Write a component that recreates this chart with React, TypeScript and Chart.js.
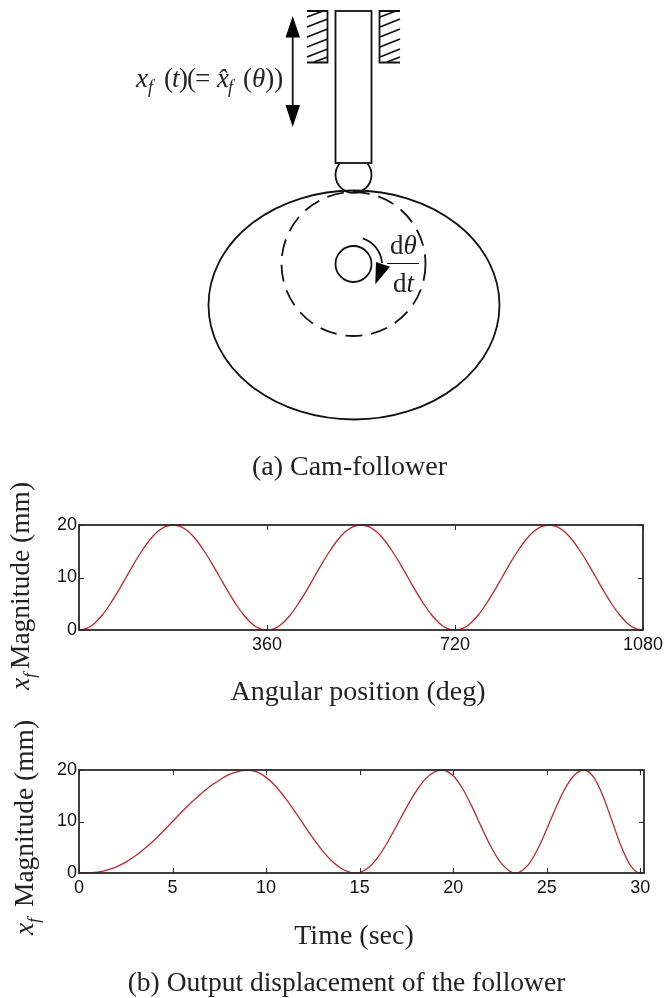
import React, { useEffect, useRef } from "react";
import { Chart, registerables } from "chart.js";

Chart.register(...registerables);

const angleDeg = [
  0, 15, 30, 45, 60, 75, 90, 105, 120, 135, 150, 165, 180, 195, 210, 225, 240, 255, 270, 285, 300, 315, 330, 345, 360,
  375, 390, 405, 420, 435, 450, 465, 480, 495, 510, 525, 540, 555, 570, 585, 600, 615, 630, 645, 660, 675, 690, 705, 720,
  735, 750, 765, 780, 795, 810, 825, 840, 855, 870, 885, 900, 915, 930, 945, 960, 975, 990, 1005, 1020, 1035, 1050, 1065, 1080,
];
const angleDisplacement = [
  0, 0.3, 1.3, 2.9, 5, 7.4, 10, 12.6, 15, 17.1, 18.7, 19.7, 20, 19.7, 18.7, 17.1, 15, 12.6, 10, 7.4, 5, 2.9, 1.3, 0.3, 0,
  0.3, 1.3, 2.9, 5, 7.4, 10, 12.6, 15, 17.1, 18.7, 19.7, 20, 19.7, 18.7, 17.1, 15, 12.6, 10, 7.4, 5, 2.9, 1.3, 0.3, 0,
  0.3, 1.3, 2.9, 5, 7.4, 10, 12.6, 15, 17.1, 18.7, 19.7, 20, 19.7, 18.7, 17.1, 15, 12.6, 10, 7.4, 5, 2.9, 1.3, 0.3, 0,
];
const timeSec = [
  0, 0.5, 1, 1.5, 2, 2.5, 3, 3.5, 4, 4.5, 5, 5.5, 6, 6.5, 7, 7.5, 8, 8.5, 9,
  9.5, 10, 10.5, 11, 11.5, 12, 12.5, 13, 13.5, 14, 14.5, 14.8,
  15, 15.5, 16, 16.5, 17, 17.5, 18, 18.5, 19, 19.4,
  20, 20.5, 21, 21.5, 22, 22.5, 23, 23.35,
  23.5, 24, 24.5, 25, 25.5, 26, 26.5, 27,
  27.5, 28, 28.5, 29, 29.5, 30, 30.2,
];
const timeDisplacement = [
  0, 0.03, 0.15, 0.55, 1.2, 2.1, 3.3, 4.7, 6.3, 8.1, 10, 11.9, 13.7, 15.3, 16.8, 18, 19.1, 19.7, 20,
  19.64, 18.57, 16.88, 14.68, 12.15, 9.46, 6.81, 4.39, 2.38, 0.93, 0.13, 0,
  0.09, 1.12, 3.18, 6.02, 9.32, 12.7, 15.77, 18.17, 19.63, 20,
  18.88, 16.41, 12.93, 9.01, 5.23, 2.19, 0.4, 0,
  0.08, 1.52, 4.51, 8.5, 12.76, 16.52, 19.08, 20,
  18.66, 15, 10, 5, 1.34, 0, 0,
];
const angleTicks = [0, 360, 720, 1080];
const timeTicks = [0, 5, 10, 15, 20, 25, 30];
const yTicks = [0, 10, 20];

const LINE = "#c0272d";
const AXIS = "#2b2b2b";
const SERIF = '"Liberation Serif", serif';
const SANS = '"Liberation Sans", sans-serif';

const frame = {
  id: "frame",
  afterDatasetsDraw(chart: any) {
    const { ctx, chartArea: a, scales } = chart;
    ctx.save();
    ctx.strokeStyle = AXIS;
    ctx.lineWidth = 1;
    const tick = 5;
    ctx.beginPath();
    scales.x.ticks.forEach((t: any) => {
      const p = Math.round(scales.x.getPixelForValue(t.value)) + 0.5;
      ctx.moveTo(p, a.bottom);
      ctx.lineTo(p, a.bottom - tick);
      ctx.moveTo(p, a.top);
      ctx.lineTo(p, a.top + tick);
    });
    scales.y.ticks.forEach((t: any) => {
      const p = Math.round(scales.y.getPixelForValue(t.value)) + 0.5;
      ctx.moveTo(a.left, p);
      ctx.lineTo(a.left + tick, p);
      ctx.moveTo(a.right, p);
      ctx.lineTo(a.right - tick, p);
    });
    ctx.stroke();
    ctx.lineWidth = 1.8;
    ctx.strokeRect(a.left, a.top, a.right - a.left, a.bottom - a.top);
    ctx.restore();
  },
};

function makeChart(
  canvas: HTMLCanvasElement,
  xs: number[],
  ys: number[],
  xMax: number,
  xTicks: number[],
  hideZero: boolean,
  top: number,
  plotH: number,
) {
  return new Chart(canvas, {
    type: "line",
    data: {
      datasets: [
        {
          data: xs.map((x, i) => ({ x, y: ys[i] })),
          borderColor: LINE,
          borderWidth: 1.3,
          pointRadius: 0,
          cubicInterpolationMode: "monotone",
          clip: false,
        },
      ],
    },
    options: {
      animation: false,
      responsive: false,
      layout: { padding: { top, right: 23, left: 0, bottom: 0 } },
      plugins: { legend: { display: false }, tooltip: { enabled: false } },
      scales: {
        x: {
          type: "linear",
          min: 0,
          max: xMax,
          grid: { display: false, drawTicks: false },
          border: { display: false },
          afterBuildTicks(s: any) {
            s.ticks = xTicks.map((value) => ({ value }));
          },
          afterFit(s: any) {
            s.height = canvas.height - top - plotH;
          },
          ticks: {
            autoSkip: false,
            maxRotation: 0,
            padding: 4,
            color: "#111",
            font: { family: SANS, size: 18 },
            callback: (v: any) => (hideZero && v === 0 ? "" : String(v)),
          },
        },
        y: {
          type: "linear",
          min: 0,
          max: 20,
          grid: { display: false, drawTicks: false },
          border: { display: false },
          afterBuildTicks(s: any) {
            s.ticks = yTicks.map((value) => ({ value }));
          },
          afterFit(s: any) {
            s.width = 79;
          },
          ticks: { padding: 2, color: "#111", font: { family: SANS, size: 18 } },
        },
      },
    },
    plugins: [frame],
  } as any);
}

function Plot({ xs, ys, xMax, xTicks, hideZero, top, left, height, padTop, plotH }: any) {
  const ref = useRef<HTMLCanvasElement>(null);
  useEffect(() => {
    const c = makeChart(ref.current!, xs, ys, xMax, xTicks, hideZero, padTop, plotH);
    return () => c.destroy();
  }, []);
  return (
    <canvas
      ref={ref}
      width={667}
      height={height}
      style={{ position: "absolute", left, top, width: 667, height }}
    />
  );
}

function Diagram() {
  const stroke = { stroke: "#111", fill: "none", strokeWidth: 1.8 };
  const hatchLeft = [
    [307, 17, 323, 11],
    [307, 27, 327.5, 19],
    [307, 37, 327.5, 29],
    [307, 47, 327.5, 39],
    [307, 57, 327.5, 49],
    [314, 62, 327.5, 57],
  ];
  const hatchRight = hatchLeft.map(([a, b, c, d]) => [a + 73, b, Math.min(c + 73, 400), d]);
  return (
    <svg
      width={667}
      height={998}
      style={{ position: "absolute", left: 0, top: 0, pointerEvents: "none" }}
    >
      <rect x={335.5} y={11} width={36} height={152} {...stroke} />
      <path d="M307 11H327.5V62.5H307" {...stroke} />
      <path d="M400 11H379.5V62.5H400" {...stroke} />
      {hatchLeft.concat(hatchRight).map(([a, b, c, d], i) => (
        <line key={i} x1={a} y1={b} x2={c} y2={d} {...stroke} />
      ))}
      <path d="M340 163A18 18 0 1 0 367 163" {...stroke} />
      <ellipse cx={354} cy={305} rx={145.5} ry={114.5} {...stroke} />
      <circle cx={353.5} cy={264} r={72} {...stroke} strokeDasharray="17 9" />
      <circle cx={353.5} cy={264} r={18} {...stroke} />
      <line x1={292.7} y1={30} x2={292.7} y2={112} {...stroke} />
      <path d="M292.7 16L285.5 37.5H300Z M292.7 127L285.5 105H300Z" fill="#000" />
      <path d="M362.7 238.3A28 28 0 0 1 382 263" {...stroke} />
      <path d="M376 262L390 266.7L375.3 284.3Z" fill="#000" />
      <line x1={387} y1={263.5} x2={419} y2={263.5} stroke="#111" strokeWidth={1} />

      <g fontFamily={SERIF} fill="#222">
        <text x={136} y={87} fontSize={27}>
          <tspan fontStyle="italic">x</tspan>
          <tspan x={148} fontStyle="italic" fontSize={18} dy={6}>f</tspan>
          <tspan x={164} dy={-6}>(</tspan>
          <tspan x={172} fontStyle="italic">t</tspan>
          <tspan x={179}>)</tspan>
          <tspan x={187}>(</tspan>
          <tspan x={195}>=</tspan>
          <tspan x={217} fontStyle="italic">x̂</tspan>
          <tspan x={228} fontStyle="italic" fontSize={18} dy={6}>f</tspan>
          <tspan x={243} dy={-6}>(</tspan>
          <tspan fontStyle="italic">θ</tspan>
          <tspan>))</tspan>
        </text>
        <text x={390} y={254} fontSize={27}>
          d<tspan fontStyle="italic">θ</tspan>
        </text>
        <text x={393} y={292} fontSize={27}>
          d<tspan fontStyle="italic">t</tspan>
        </text>
        <text x={349.5} y={475} fontSize={28} textAnchor="middle">(a) Cam-follower</text>
        <text x={358} y={700} fontSize={28} textAnchor="middle">Angular position (deg)</text>
        <text x={354} y={944} fontSize={28} textAnchor="middle">Time (sec)</text>
        <text x={346.5} y={991} fontSize={27.5} textAnchor="middle">(b) Output displacement of the follower</text>
        <text transform="translate(28.5,690) rotate(-90)" fontSize={27.5}>
          <tspan fontStyle="italic">x</tspan>
          <tspan fontStyle="italic" fontSize={17} dy={6}>f</tspan>
          <tspan dy={-6} dx={4}>Magnitude (mm)</tspan>
        </text>
        <text transform="translate(33,935) rotate(-90)" fontSize={27.5}>
          <tspan fontStyle="italic">x</tspan>
          <tspan fontStyle="italic" fontSize={17} dy={6}>f</tspan>
          <tspan dy={-6} dx={11}>Magnitude (mm)</tspan>
        </text>
      </g>
    </svg>
  );
}

export default function App() {
  return (
    <div style={{ position: "absolute", left: 0, top: 0, width: 667, height: 998, background: "#fff", overflow: "hidden" }}>
      <Plot xs={angleDeg} ys={angleDisplacement} xMax={1080} xTicks={angleTicks} hideZero top={500} left={0} height={160} padTop={25} plotH={105} />
      <Plot xs={timeSec} ys={timeDisplacement} xMax={30.2} xTicks={timeTicks} hideZero={false} top={745} left={0} height={160} padTop={25} plotH={103} />
      <Diagram />
    </div>
  );
}
